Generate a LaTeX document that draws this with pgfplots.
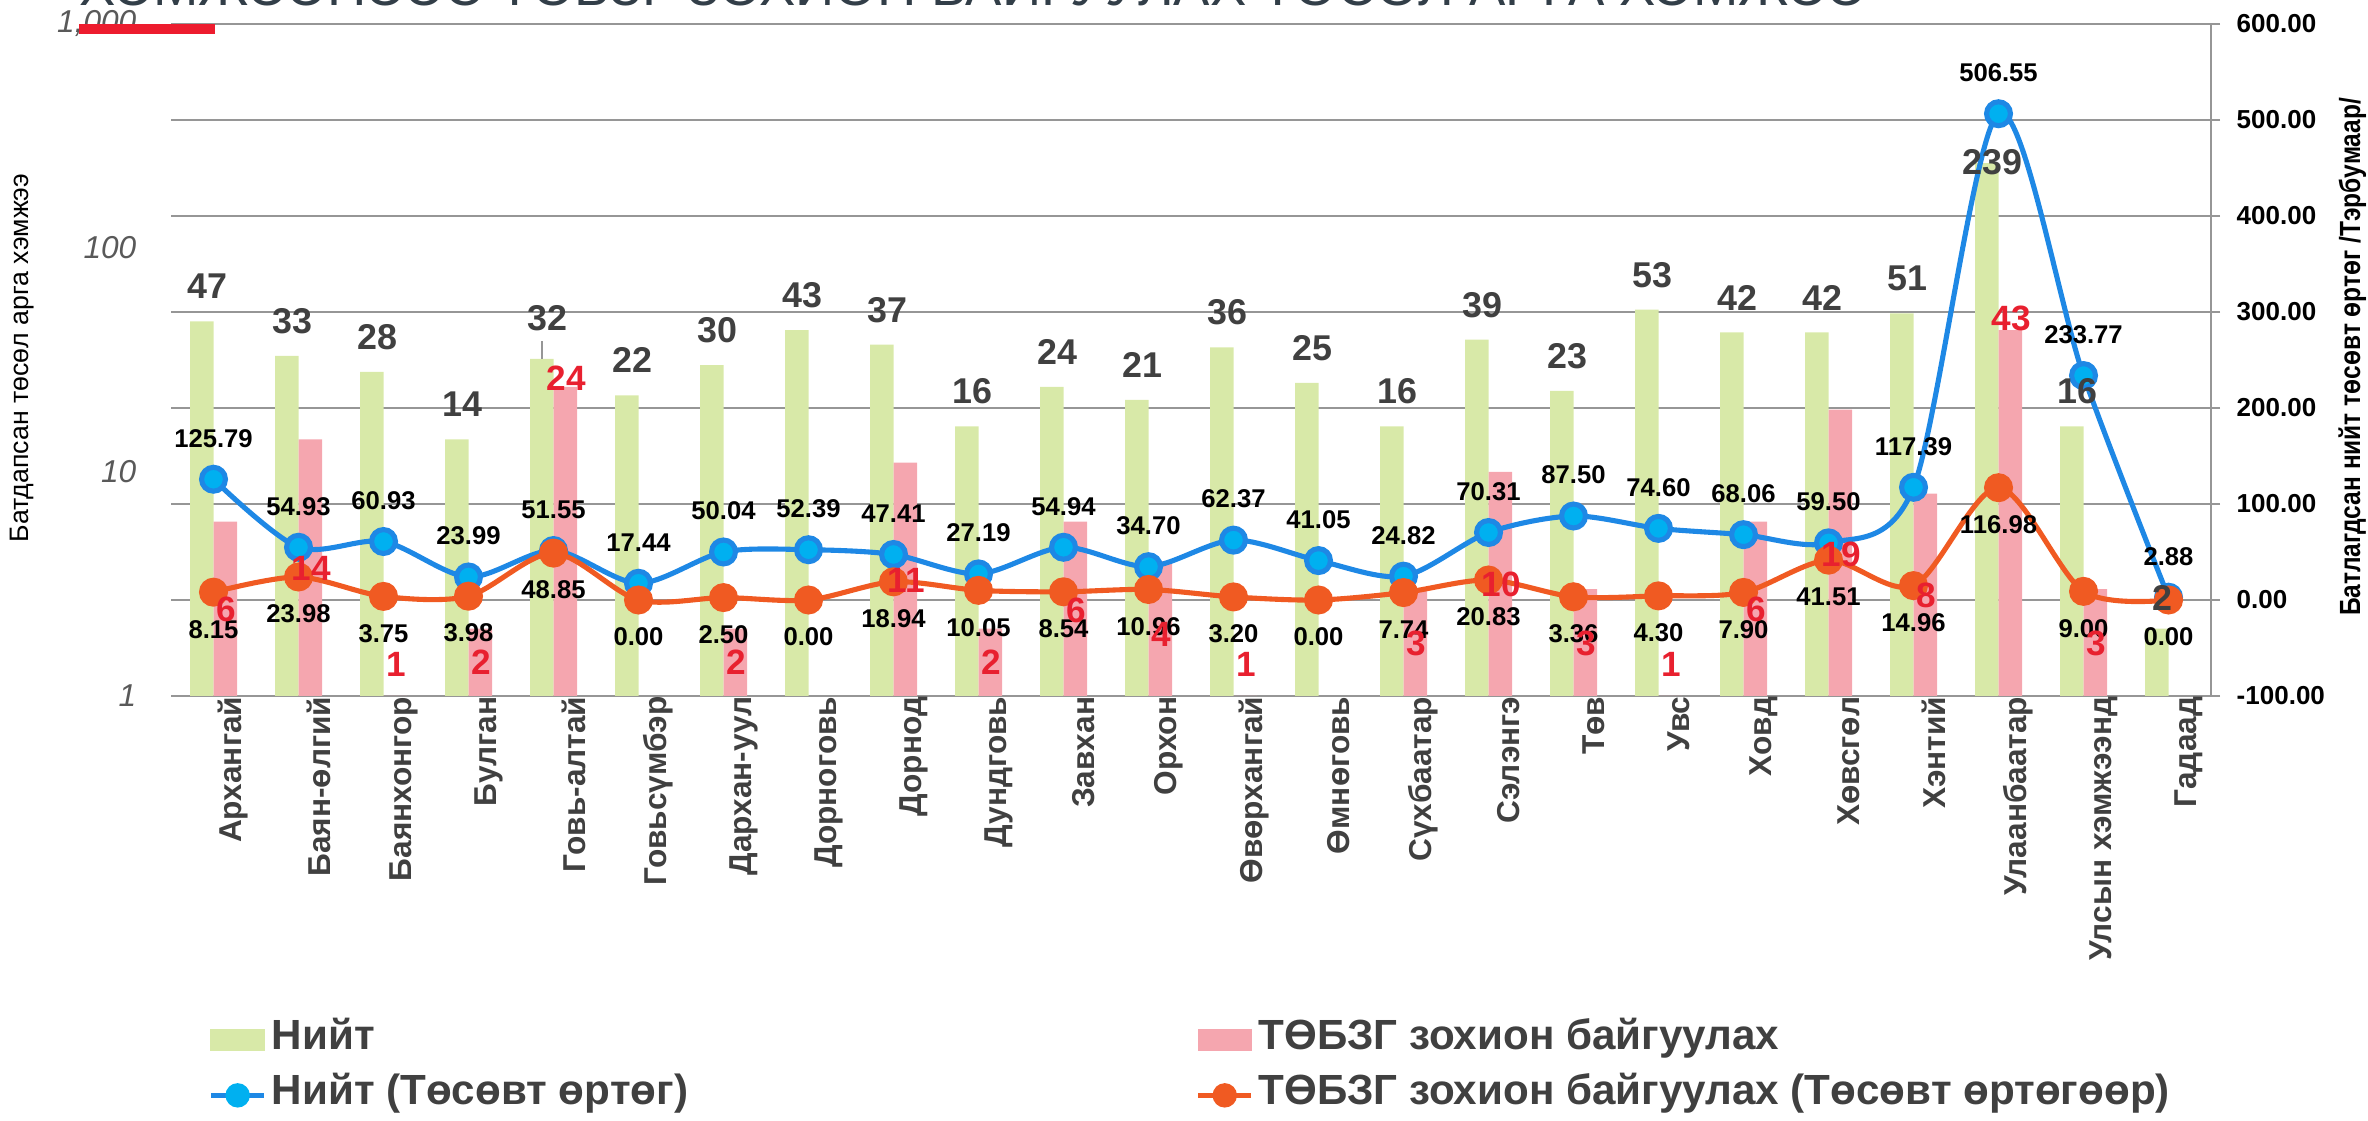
\documentclass[border=0pt]{standalone}
\usepackage{fontspec}
\setmainfont{Liberation Sans}
\usepackage{pgfplots}
\usepackage{pgfplotstable}
\pgfplotsset{compat=1.18}
\pgfkeys{/pgf/number format/assume math mode=true}

\definecolor{greenbar}{RGB}{216,233,168}
\definecolor{pinkbar}{RGB}{245,166,175}
\definecolor{blueline}{RGB}{30,136,229}
\definecolor{bluemark}{RGB}{0,176,240}
\definecolor{orangeline}{RGB}{240,90,34}
\definecolor{redlab}{RGB}{232,32,47}
\definecolor{dgtext}{RGB}{64,64,64}
\definecolor{tickgray}{RGB}{89,89,89}
\definecolor{gridgray}{RGB}{150,150,150}
\definecolor{titlecol}{RGB}{50,62,72}
\definecolor{redbar}{RGB}{237,28,46}

% green bars: x, value, label position (left log axis)
\pgfplotstableread{
x v ly
0 47 67.2
1 33 47.2
2 28 40.0
3 14 20.0
4 32 48.5
5 22 31.5
6 30 42.9
7 43 61.5
8 37 52.9
9 16 22.9
10 24 34.3
11 21 30.0
12 36 51.5
13 25 35.8
14 16 22.9
15 39 55.8
16 23 32.9
17 53 75.8
18 42 60.1
19 42 60.1
20 51 72.9
21 239 241
22 16 22.9
23 2 2.75
}\greentab

% pink bars: x, value, label position
\pgfplotstableread{
x v ly
0 6 2.44
1 14 3.72
2 1 1.38
3 2 1.42
4 24 26.3
6 2 1.42
8 11 3.28
9 2 1.42
10 6 2.40
11 4 1.88
12 1 1.38
14 3 1.71
15 10 3.16
16 3 1.71
17 1 1.38
18 6 2.44
19 19 4.29
20 8 2.81
21 43 48.5
22 3 1.71
}\pinktab

\pgfplotstableread{
x v
0 125.79
1 54.93
2 60.93
3 23.99
4 51.55
5 17.44
6 50.04
7 52.39
8 47.41
9 27.19
10 54.94
11 34.70
12 62.37
13 41.05
14 24.82
15 70.31
16 87.50
17 74.60
18 68.06
19 59.50
20 117.39
21 506.55
22 233.77
23 2.88
}\bluetab

\pgfplotstableread{
x v
0 8.15
1 23.98
2 3.75
3 3.98
4 48.85
5 0.00
6 2.50
7 0.00
8 18.94
9 10.05
10 8.54
11 10.96
12 3.20
13 0.00
14 7.74
15 20.83
16 3.36
17 4.30
18 7.90
19 41.51
20 14.96
21 116.98
22 9.00
23 0.00
}\orangetab

\pgfplotsset{
  base/.style={scale only axis, width=20.4cm, height=6.72cm,
    at={(1.71cm,4.24cm)}, anchor=south west,
    xmin=-0.5, xmax=23.5, clip=false},
}

\begin{document}
\begin{tikzpicture}
\useasboundingbox (0,0) rectangle (23.68cm,11.2cm);

% title (top cut off)
\node[anchor=base west, inner sep=0pt, text=titlecol] at (0.79cm,11.14cm)
  {\resizebox{17.87cm}{!}{\fontsize{16}{18}\selectfont ХЭМЖЭЭНЭЭС ТӨБЗГ ЗОХИОН БАЙГУУЛАХ ТӨСӨЛ АРГА ХЭМЖЭЭ}};

% axis 1: grid and right axis
\begin{axis}[base,
  ymin=-100, ymax=600, ytick={-100,0,...,600},
  ymajorgrids, grid style={gridgray, line width=0.45pt},
  axis x line*=bottom, axis y line*=right,
  axis line style={gridgray, line width=0.6pt},
  xtick=\empty, tick align=outside, major tick length=0.09cm,
  ytick style={gridgray, line width=0.45pt},
  yticklabel={\pgfmathprintnumber[fixed,fixed zerofill,precision=2]{\tick}},
  yticklabel style={font=\bfseries\fontsize{7.4}{9}\selectfont, anchor=west, inner sep=0pt, xshift=0.16cm},
]
\addplot[draw=none] coordinates {(0,0)};
\end{axis}

% axis 2: bars on log axis
\begin{axis}[base,
  ymode=log, ymin=1, ymax=1000,
  ytick={1,10,100,1000}, yticklabels={1,10,100,{1,000}},
  axis line style={draw=none}, tick style={draw=none},
  xtick={0,...,23},
  xticklabels={Архангай, Баян-өлгий, Баянхонгор, Булган, Говь-алтай, Говьсүмбэр, Дархан-уул, Дорноговь, Дорнод, Дундговь, Завхан, Орхон, Өвөрхангай, Өмнөговь, Сүхбаатар, Сэлэнгэ, Төв, Увс, Ховд, Хөвсгөл, Хэнтий, Улаанбаатар, Улсын хэмжээнд, Гадаад},
  xticklabel style={rotate=90, anchor=east, inner sep=0pt, yshift=-0.2cm,
    font=\bfseries\fontsize{9}{11}\selectfont, text=dgtext},
  yticklabel style={anchor=east, inner sep=0pt, xshift=-0.34cm,
    font=\itshape\fontsize{9}{11}\selectfont, text=tickgray},
]
\addplot[ybar, bar width=0.235cm, bar shift=-0.1175cm, fill=greenbar, draw=none] table[x=x,y=v]{\greentab};
\addplot[ybar, bar width=0.235cm, bar shift=0.1175cm, fill=pinkbar, draw=none] table[x=x,y=v]{\pinktab};
\end{axis}

% axis 3: lines on right axis
\begin{axis}[base, ymin=-100, ymax=600, hide axis]
\addplot[smooth, blueline, line width=1.45pt, mark=*, mark size=3.4pt,
  mark options={fill=bluemark, draw=none},
  point meta=y,
  nodes near coords={\pgfmathprintnumber[fixed,fixed zerofill,precision=2]{\pgfplotspointmeta}},
  every node near coord/.append style={anchor=center, yshift=0.41cm,
    font=\bfseries\fontsize{7.3}{9}\selectfont, text=black}]
  table[x=x,y=v]{\bluetab};
\addplot[smooth, orangeline, line width=1.45pt, mark=*, mark size=3.4pt,
  mark options={fill=orangeline, draw=none},
  point meta=y,
  nodes near coords={\pgfmathprintnumber[fixed,fixed zerofill,precision=2]{\pgfplotspointmeta}},
  every node near coord/.append style={anchor=center, yshift=-0.37cm,
    font=\bfseries\fontsize{7.3}{9}\selectfont, text=black}]
  table[x=x,y=v]{\orangetab};
\end{axis}

% axis 4: bar value labels and legend
\begin{axis}[base, ymode=log, ymin=1, ymax=1000, hide axis,
  legend columns=2,
  legend style={at={(axis description cs:0.0181,-0.485)}, anchor=north west,
    draw=none, fill=none, inner sep=0pt, column sep=0pt, row sep=0.2cm,
    font=\bfseries\fontsize{12}{14}\selectfont,
    nodes={inner xsep=0.05cm, inner ysep=0pt, text height=0.75em, text depth=0.25em, text=dgtext}},
  legend cell align=left,
]
\addplot[draw=none, mark=none, forget plot, nodes near coords, point meta=explicit,
  every node near coord/.append style={anchor=center, xshift=-0.064cm,
    font=\bfseries\fontsize{10.2}{12}\selectfont, text=dgtext}]
  table[x=x,y=ly,meta=v]{\greentab};
\addplot[draw=none, mark=none, forget plot, nodes near coords, point meta=explicit,
  every node near coord/.append style={anchor=center, xshift=0.13cm,
    font=\bfseries\fontsize{10}{12}\selectfont, text=redlab}]
  table[x=x,y=ly,meta=v]{\pinktab};
\draw[gridgray, line width=0.5pt] (axis cs:3.862,32) -- (axis cs:3.862,38.5);

\addlegendimage{legend image code/.code={\fill[greenbar] (0cm,-0.105cm) rectangle (0.53cm,0.105cm);}}
\addlegendentry{\makebox[9.19cm][l]{Нийт}}
\addlegendimage{legend image code/.code={\fill[pinkbar] (0cm,-0.105cm) rectangle (0.53cm,0.105cm);}}
\addlegendentry{ТӨБЗГ зохион байгуулах}
\addlegendimage{legend image code/.code={\draw[blueline, line width=1.45pt] (0cm,0cm) -- (0.53cm,0cm); \fill[bluemark] (0.265cm,0cm) circle (0.115cm);}}
\addlegendentry{\makebox[9.19cm][l]{Нийт (Төсөвт өртөг)}}
\addlegendimage{legend image code/.code={\draw[orangeline, line width=1.45pt] (0cm,0cm) -- (0.53cm,0cm); \fill[orangeline] (0.265cm,0cm) circle (0.115cm);}}
\addlegendentry{ТӨБЗГ зохион байгуулах (Төсөвт өртөгөөр)}
\end{axis}

% red bar at top left
\fill[redbar] (0.79cm,10.86cm) rectangle (2.15cm,10.96cm);

% axis titles
\node[rotate=90, anchor=base, inner sep=0pt, text=black, font=\fontsize{7.6}{9}\selectfont] at (0.28cm,7.62cm) {Батдапсан төсөл арга хэмжээ};
\node[rotate=90, anchor=base, inner sep=0pt, text=black, font=\bfseries\fontsize{8.3}{10}\selectfont] at (23.60cm,7.63cm)
  {\scalebox{0.84}[1]{Батлагдсан нийт төсөвт өртөг /Тэрбумаар/}};
\end{tikzpicture}
\end{document}
